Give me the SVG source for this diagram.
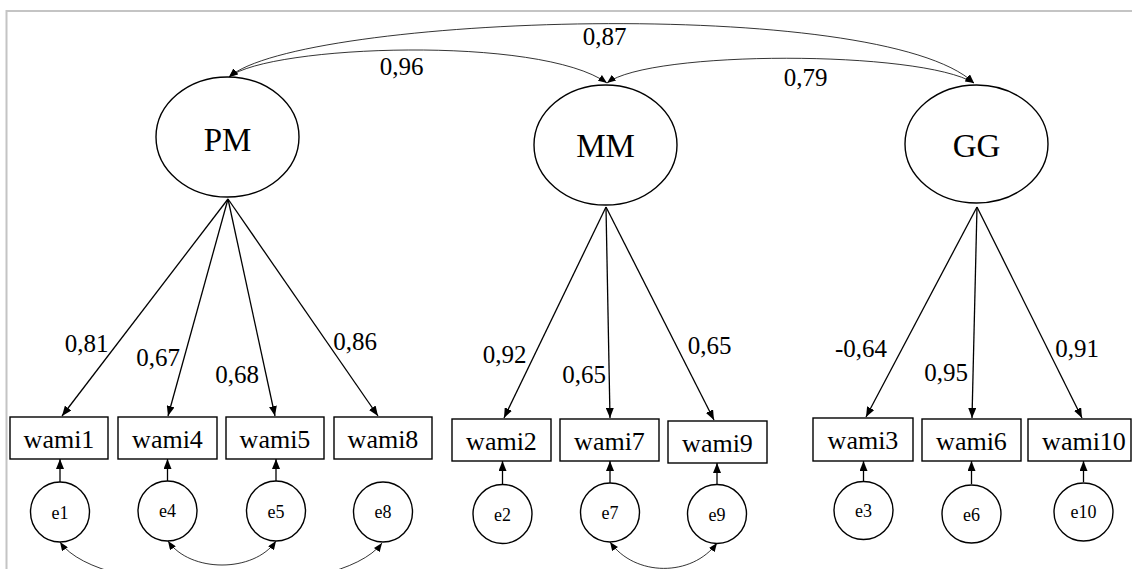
<svg xmlns="http://www.w3.org/2000/svg" width="1132" height="569" viewBox="0 0 1132 569" font-family="'Liberation Serif', 'Times New Roman', serif">
<style>
text{fill:#000;text-anchor:middle}
.lat{font-size:33px}
.obs{font-size:26px}
.err{font-size:18px}
.lbl{font-size:25px}
.shape{fill:#fff;stroke:#000;stroke-width:1.4}
.ld{fill:none;stroke:#000;stroke-width:1.3;marker-end:url(#a)}
.cov{fill:none;stroke:#000;stroke-width:0.8;marker-start:url(#b);marker-end:url(#b)}
</style>
<defs>
<marker id="a" viewBox="0 0 10 8" refX="10" refY="4" markerWidth="10" markerHeight="8" markerUnits="userSpaceOnUse" orient="auto-start-reverse"><path d="M0,0 L10,4 L0,8 z" fill="#000"/></marker>
<marker id="b" viewBox="0 0 10 8" refX="10" refY="4" markerWidth="9" markerHeight="7" markerUnits="userSpaceOnUse" orient="auto-start-reverse"><path d="M0,0 L10,4 L0,8 z" fill="#000"/></marker>
</defs>
<rect width="1132" height="569" fill="#fff"/>
<path d="M6.5,569 V11 H1132" fill="none" stroke="#c4c4c4" stroke-width="2"/>

<g id="connectors">
<path class="cov" d="M229,77 C270,45 540,35 607,83"/>
<path class="cov" d="M229,77 C300,15 880,-5 974,83"/>
<path class="cov" d="M607,83 C650,50 920,50 974,83"/>
<line class="ld" x1="228" y1="199" x2="62" y2="416"/>
<line class="ld" x1="228" y1="199" x2="168" y2="416"/>
<line class="ld" x1="228" y1="199" x2="275" y2="416"/>
<line class="ld" x1="228" y1="199" x2="378" y2="416"/>
<line class="ld" x1="606" y1="207" x2="504" y2="418"/>
<line class="ld" x1="606" y1="207" x2="610" y2="418"/>
<line class="ld" x1="606" y1="207" x2="714" y2="420"/>
<line class="ld" x1="977" y1="207" x2="866" y2="417"/>
<line class="ld" x1="977" y1="207" x2="972" y2="418"/>
<line class="ld" x1="977" y1="207" x2="1082" y2="418"/>
<line class="ld" x1="60" y1="482" x2="60" y2="459"/>
<line class="ld" x1="167.5" y1="481" x2="167.5" y2="459"/>
<line class="ld" x1="276" y1="481" x2="276" y2="459"/>
<line class="ld" x1="502.5" y1="484" x2="502.5" y2="461"/>
<line class="ld" x1="610" y1="483" x2="610" y2="461"/>
<line class="ld" x1="717" y1="484" x2="717" y2="463"/>
<line class="ld" x1="863.5" y1="481" x2="863.5" y2="461"/>
<line class="ld" x1="971.5" y1="484" x2="971.5" y2="461"/>
<line class="ld" x1="1083.5" y1="482" x2="1083.5" y2="461"/>
<path class="cov" d="M60,542 C100,600 340,600 382,543"/>
<path class="cov" d="M168,541 C190,573 254,573 276,541"/>
<path class="cov" d="M610,542 C635,577 692,577 717,543"/>
<text class="lbl" x="401.5" y="75">0,96</text>
<text class="lbl" x="604.5" y="45">0,87</text>
<text class="lbl" x="805.5" y="86">0,79</text>
<text class="lbl" x="86.5" y="352">0,81</text>
<text class="lbl" x="158" y="366">0,67</text>
<text class="lbl" x="237" y="383">0,68</text>
<text class="lbl" x="355" y="350">0,86</text>
<text class="lbl" x="504.5" y="363">0,92</text>
<text class="lbl" x="584" y="383">0,65</text>
<text class="lbl" x="709.5" y="354">0,65</text>
<text class="lbl" x="861" y="357">-0,64</text>
<text class="lbl" x="946" y="381">0,95</text>
<text class="lbl" x="1077" y="357">0,91</text>
</g>

<g id="PM"><ellipse class="shape" cx="227.5" cy="137" rx="71.5" ry="60"/><text class="lat" x="227.5" y="151">PM</text></g>
<g id="MM"><ellipse class="shape" cx="605.5" cy="145" rx="71.5" ry="60"/><text class="lat" x="605.5" y="157">MM</text></g>
<g id="GG"><ellipse class="shape" cx="976.5" cy="144" rx="71.5" ry="59"/><text class="lat" x="976.5" y="157">GG</text></g>

<g id="wami1"><rect class="shape" x="10" y="417" width="98" height="42"/><text class="obs" x="59" y="448">wami1</text></g>
<g id="wami4"><rect class="shape" x="118" y="417" width="99" height="42"/><text class="obs" x="167.5" y="448">wami4</text></g>
<g id="wami5"><rect class="shape" x="226" y="417" width="98" height="42"/><text class="obs" x="275" y="448">wami5</text></g>
<g id="wami8"><rect class="shape" x="334" y="417" width="98" height="42"/><text class="obs" x="383" y="448">wami8</text></g>
<g id="wami2"><rect class="shape" x="452" y="419" width="99" height="42"/><text class="obs" x="501.5" y="450">wami2</text></g>
<g id="wami7"><rect class="shape" x="560" y="419" width="99" height="42"/><text class="obs" x="609.5" y="450">wami7</text></g>
<g id="wami9"><rect class="shape" x="668" y="421" width="99" height="42"/><text class="obs" x="717.5" y="452">wami9</text></g>
<g id="wami3"><rect class="shape" x="813" y="418" width="100" height="43"/><text class="obs" x="863" y="449">wami3</text></g>
<g id="wami6"><rect class="shape" x="922" y="419" width="99" height="42"/><text class="obs" x="971.5" y="450">wami6</text></g>
<g id="wami10"><rect class="shape" x="1028" y="419" width="103" height="42"/><text class="obs" x="1084" y="450">wami10</text></g>

<g id="e1"><ellipse class="shape" cx="60" cy="512" rx="29.5" ry="30"/><text class="err" x="60" y="519">e1</text></g>
<g id="e4"><ellipse class="shape" cx="167.5" cy="511" rx="29.5" ry="30"/><text class="err" x="167.5" y="517">e4</text></g>
<g id="e5"><ellipse class="shape" cx="276" cy="511" rx="29.5" ry="30"/><text class="err" x="276" y="518">e5</text></g>
<g id="e8"><ellipse class="shape" cx="383" cy="512" rx="29.5" ry="30"/><text class="err" x="383" y="518">e8</text></g>
<g id="e2"><ellipse class="shape" cx="502.5" cy="514" rx="29.5" ry="29.5"/><text class="err" x="502.5" y="521">e2</text></g>
<g id="e7"><ellipse class="shape" cx="610" cy="512.5" rx="29.5" ry="29.5"/><text class="err" x="610" y="519">e7</text></g>
<g id="e9"><ellipse class="shape" cx="717" cy="514" rx="29.5" ry="29.5"/><text class="err" x="717" y="521">e9</text></g>
<g id="e3"><ellipse class="shape" cx="863.5" cy="510.5" rx="29.5" ry="29"/><text class="err" x="863.5" y="517">e3</text></g>
<g id="e6"><ellipse class="shape" cx="971.5" cy="514" rx="29.5" ry="29"/><text class="err" x="971.5" y="521">e6</text></g>
<g id="e10"><ellipse class="shape" cx="1083.5" cy="512" rx="29.5" ry="29"/><text class="err" x="1083.5" y="518">e10</text></g>
</svg>
